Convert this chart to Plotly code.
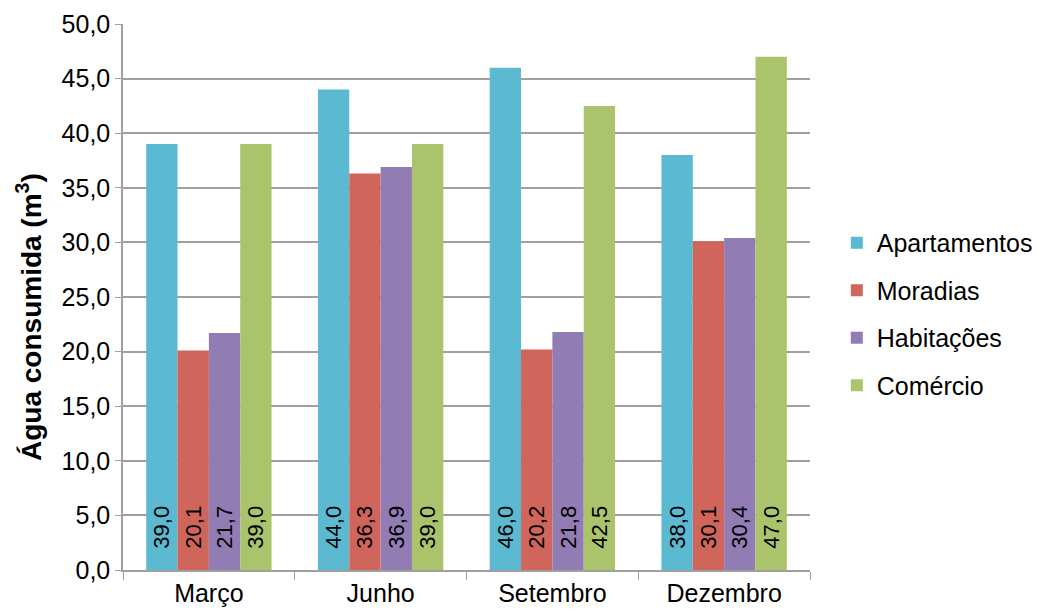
import plotly.graph_objects as go

categories = ["Março", "Junho", "Setembro", "Dezembro"]
series_names = ["Apartamentos", "Moradias", "Habitações", "Comércio"]
apartamentos = [39.0, 44.0, 46.0, 38.0]
moradias = [20.1, 36.3, 20.2, 30.1]
habitacoes = [21.7, 36.9, 21.8, 30.4]
comercio = [39.0, 39.0, 42.5, 47.0]
colors = ["#5BB9D1", "#CF655B", "#927CB4", "#ABC46C"]
y_ticks = [0, 5, 10, 15, 20, 25, 30, 35, 40, 45, 50]
y_title = "<b>Água consumida (m<sup>3</sup>)</b>"

font_family = "Liberation Sans, Arial, Helvetica, sans-serif"
pad = "\u00a0\u00a0\u00a0"

fig = go.Figure()
for i, (name, vals) in enumerate(zip(series_names, [apartamentos, moradias, habitacoes, comercio])):
    fig.add_trace(go.Bar(
        x=categories, y=vals, name=name,
        marker=dict(color=colors[i], line=dict(width=0)),
        text=[pad + f"{v:.1f}".replace(".", ",") for v in vals],
        textposition="inside", insidetextanchor="start", textangle=-90,
        textfont=dict(family=font_family, size=22, color="black"),
        legendgroup=name, cliponaxis=False,
    ))

fig.update_layout(
    width=1044, height=614,
    margin=dict(l=123, r=234, t=24, b=44, autoexpand=False),
    paper_bgcolor="white", plot_bgcolor="white",
    barmode="group", bargap=0.27, bargroupgap=0,
    separators=",.",
    uniformtext=dict(minsize=22, mode="show"),
    font=dict(family=font_family, size=25, color="black"),
    legend=dict(x=1.039, y=0.469, yanchor="middle", xanchor="left",
                font=dict(size=25, family=font_family),
                traceorder="grouped", tracegroupgap=12,
                itemwidth=30),
    showlegend=True,
    annotations=[dict(
        text=y_title, textangle=-90, showarrow=False,
        xref="paper", yref="paper",
        x=(29 - 123) / 687, y=(570 - 317) / 546,
        xanchor="center", yanchor="middle",
        font=dict(family=font_family, size=28, color="black"),
    )],
)
fig.update_yaxes(
    range=[0, 50], tickvals=y_ticks, tickformat=".1f",
    showgrid=True, gridcolor="#A0A0A0", gridwidth=1.5,
    showline=True, linecolor="#A0A0A0", linewidth=1.5,
    ticks="outside", ticklen=6, tickcolor="#A0A0A0",
    tickfont=dict(size=25), zeroline=False,
)
fig.update_xaxes(
    showline=True, linecolor="#A0A0A0", linewidth=1.5,
    ticks="outside", tickson="boundaries", ticklen=8, tickcolor="#A0A0A0",
    tickfont=dict(size=25), showgrid=False,
)

fig.write_html("out.html")
